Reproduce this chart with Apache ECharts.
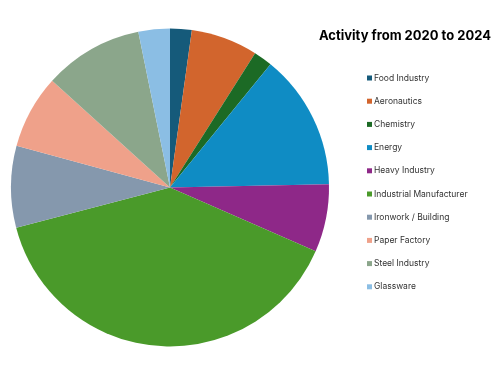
<!DOCTYPE html>
<html><head><meta charset="utf-8">
<script src="https://cdn.jsdelivr.net/npm/echarts@6/dist/echarts.min.js"></script>
<style>html,body{margin:0;padding:0;background:#fff}#c{width:493px;height:370px}</style>
</head><body><div id="c"></div>
<script>
const categories = ["Food Industry","Aeronautics","Chemistry","Energy","Heavy Industry","Industrial Manufacturer","Ironwork / Building","Paper Factory","Steel Industry","Glassware"];
const values = [2.2, 6.8, 1.9, 13.8, 6.9, 39.4, 8.3, 7.5, 10.1, 3.2];
const colors = ["#155A7A","#D2652D","#1C6A25","#0F8CC4","#8E2888","#4A9A2A","#8598AD","#EFA18A","#8BA68B","#8BBEE4"];
const titleText = "Activity from 2020 to 2024";

const chart = echarts.init(document.getElementById('c'), null, {renderer:'canvas'});
chart.setOption({
  animation: false,
  color: colors,
  title: {
    text: titleText, right: 2, top: 30, padding: 0,
    textStyle: {fontFamily: 'Inter', fontWeight: 'bold', fontSize: 13, color: '#000'}
  },
  legend: {
    orient: 'vertical', left: 362, top: 67,
    itemWidth: 5, itemHeight: 5, itemGap: 11.2,
    icon: 'rect',
    textStyle: {fontFamily: 'Inter', fontSize: 8.5, color: '#333', lineHeight: 12, padding: [0,0,0,-3]},
    data: categories
  },
  series: [{
    type: 'pie',
    center: [170, 187.5], radius: 159,
    startAngle: 90, clockwise: true,
    label: {show: false}, labelLine: {show: false},
    emphasis: {disabled: true},
    itemStyle: {borderWidth: 0},
    data: categories.map((n, i) => ({name: n, value: values[i]}))
  }]
});
</script></body></html>
